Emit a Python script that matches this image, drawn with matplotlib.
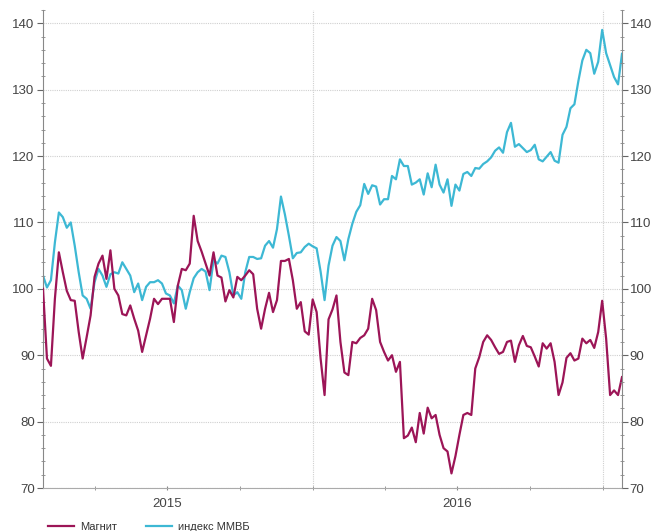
import matplotlib
matplotlib.use('Agg')
import matplotlib.pyplot as plt
import matplotlib.dates as mdates
from matplotlib.ticker import MultipleLocator, NullFormatter
import pandas as pd

start_date = '2015-01-26'
step = '5D'

magnit = [100, 89.5, 88.4, 98.5, 105.5, 102.5, 99.7, 98.3, 98.2, 93.5,
          89.5, 92.7, 96, 101.8, 103.8, 105, 101.5, 105.8, 100, 99,
          96.2, 96, 97.5, 95.5, 93.7, 90.5, 93, 95.5, 98.5, 97.7,
          98.5, 98.5, 98.5, 95, 100.5, 103, 102.8, 103.8, 111, 107.2,
          105.6, 103.8, 102, 105.5, 102, 101.7, 98.1, 99.8, 98.7, 101.8,
          101.3, 102, 102.8, 102.2, 97, 94, 97, 99.4, 96.5, 98.3,
          104.2, 104.2, 104.5, 101.3, 97, 98, 93.6, 93.1, 98.4, 96.5,
          89.5, 84, 95.4, 96.9, 99, 92, 87.4, 87, 92, 91.8,
          92.6, 93, 94, 98.5, 96.8, 92, 90.5, 89.2, 90, 87.5,
          89, 77.5, 77.9, 79.1, 76.9, 81.3, 78.2, 82.1, 80.5, 81,
          78, 76, 75.5, 72.2, 74.8, 78, 81, 81.3, 81, 88,
          89.7, 92, 93, 92.3, 91.2, 90.2, 90.5, 92, 92.2, 89,
          91.5, 92.9, 91.4, 91.2, 89.8, 88.3, 91.8, 91, 91.8, 89,
          84, 85.9, 89.6, 90.3, 89.2, 89.5, 92.5, 91.8, 92.3, 91.1,
          93.5, 98.2, 92.5, 84, 84.7, 84, 86.7]

micex = [102, 100.2, 101.3, 107, 111.5, 110.8, 109.2, 110, 106.5, 102.5,
         99, 98.5, 97, 101, 103, 102, 100.3, 102.2, 102.5, 102.3,
         104, 103, 102, 99.5, 100.8, 98.3, 100.3, 101, 101, 101.3,
         100.8, 99.3, 99, 97.8, 100.5, 99.8, 97, 99.5, 101.6, 102.5,
         103, 102.6, 99.8, 104.3, 103.8, 105, 104.8, 102.5, 99, 99.5,
         98.5, 102.5, 104.8, 104.8, 104.5, 104.6, 106.5, 107.2, 106.2, 109,
         113.9, 111.2, 108, 104.6, 105.4, 105.5, 106.3, 106.8, 106.4, 106.1,
         102.6, 98.3, 103.5, 106.5, 107.8, 107.2, 104.3, 107.5, 109.8, 111.6,
         112.6, 115.8, 114.3, 115.6, 115.4, 112.7, 113.5, 113.5, 117, 116.5,
         119.5, 118.5, 118.5, 115.7, 116, 116.5, 114.2, 117.4, 115.3, 118.7,
         115.7, 114.5, 116.5, 112.5, 115.7, 114.8, 117.3, 117.6, 117, 118.2,
         118.1, 118.8, 119.2, 119.8, 120.8, 121.3, 120.5, 123.6, 125, 121.4,
         121.8, 121.2, 120.6, 120.9, 121.7, 119.5, 119.2, 119.9, 120.6, 119.3,
         119, 123.2, 124.4, 127.2, 127.8, 131.3, 134.4, 136, 135.5, 132.4,
         134.2, 139, 135.5, 133.7, 131.9, 130.8, 135.4]

labels = ['Магнит', 'индекс ММВБ']
colors = ['#9c1557', '#3db8d4']


def main():
	plt.rcParams['font.family'] = ['Liberation Sans', 'DejaVu Sans']
	dates = pd.date_range(start_date, periods=len(magnit), freq=step)

	fig = plt.figure(figsize=(6.52, 5.31), dpi=100)
	ax = fig.add_axes([43 / 652, 43 / 531, 579 / 652, 478 / 531])
	l1, = ax.plot(dates, magnit, color=colors[0], lw=1.6, zorder=3)
	l2, = ax.plot(dates, micex, color=colors[1], lw=1.6, zorder=2)

	ax.set_xlim(dates[0], dates[-1])
	ax.set_ylim(70, 142)

	# y axis: major every 10, minor every 2
	ax.yaxis.set_major_locator(MultipleLocator(10))
	ax.yaxis.set_minor_locator(MultipleLocator(2))
	ax.grid(axis='y', which='major', color='#d0d0d0', ls=(0, (1, 1)), lw=0.8)

	# x axis: quarter ticks, year labels in the middle of the year
	ax.xaxis.set_minor_locator(mdates.MonthLocator(bymonth=[1, 4, 7, 10]))
	ax.xaxis.set_minor_formatter(NullFormatter())
	ax.xaxis.set_major_locator(mdates.MonthLocator(bymonth=[7]))
	ax.xaxis.set_major_formatter(mdates.DateFormatter('%Y'))
	for d in ['2016-01-01', '2017-01-01']:
		ax.axvline(pd.Timestamp(d), color='#d0d0d0', ls=(0, (1, 1)), lw=0.8, zorder=1)

	for side in ['top', 'right']:
		ax.spines[side].set_visible(False)
	ax.spines['left'].set_color('#888888')
	ax.spines['bottom'].set_color('#aaaaaa')
	ax.tick_params(axis='y', which='major', length=4, color='#666666', labelsize=9.5,
				   labelcolor='#444444', pad=2)
	ax.tick_params(axis='y', which='minor', length=3, color='#888888', direction='inout')
	ax.tick_params(axis='x', which='both', length=3, color='#888888', labelsize=9.5,
				   labelcolor='#444444', direction='inout', pad=6)

	ax2 = ax.twinx()
	ax2.set_ylim(ax.get_ylim())
	ax2.yaxis.set_major_locator(MultipleLocator(10))
	ax2.yaxis.set_minor_locator(MultipleLocator(2))
	for side in ['top', 'left', 'bottom']:
		ax2.spines[side].set_visible(False)
	ax2.spines['right'].set_color('#888888')
	ax2.tick_params(axis='y', which='major', length=4, color='#666666', labelsize=9.5,
					labelcolor='#444444', pad=1.5)
	ax2.tick_params(axis='y', which='minor', length=3, color='#888888', direction='inout')

	fig.legend([l1, l2], labels, loc='center left', bbox_to_anchor=(38 / 652, 4 / 531),
			   ncol=2, frameon=False, fontsize=8, handlelength=2.3, columnspacing=2.6,
			   handletextpad=0.6, labelcolor='#333333')

	fig.savefig('out.png', dpi=100)


if __name__ == '__main__':
	main()
